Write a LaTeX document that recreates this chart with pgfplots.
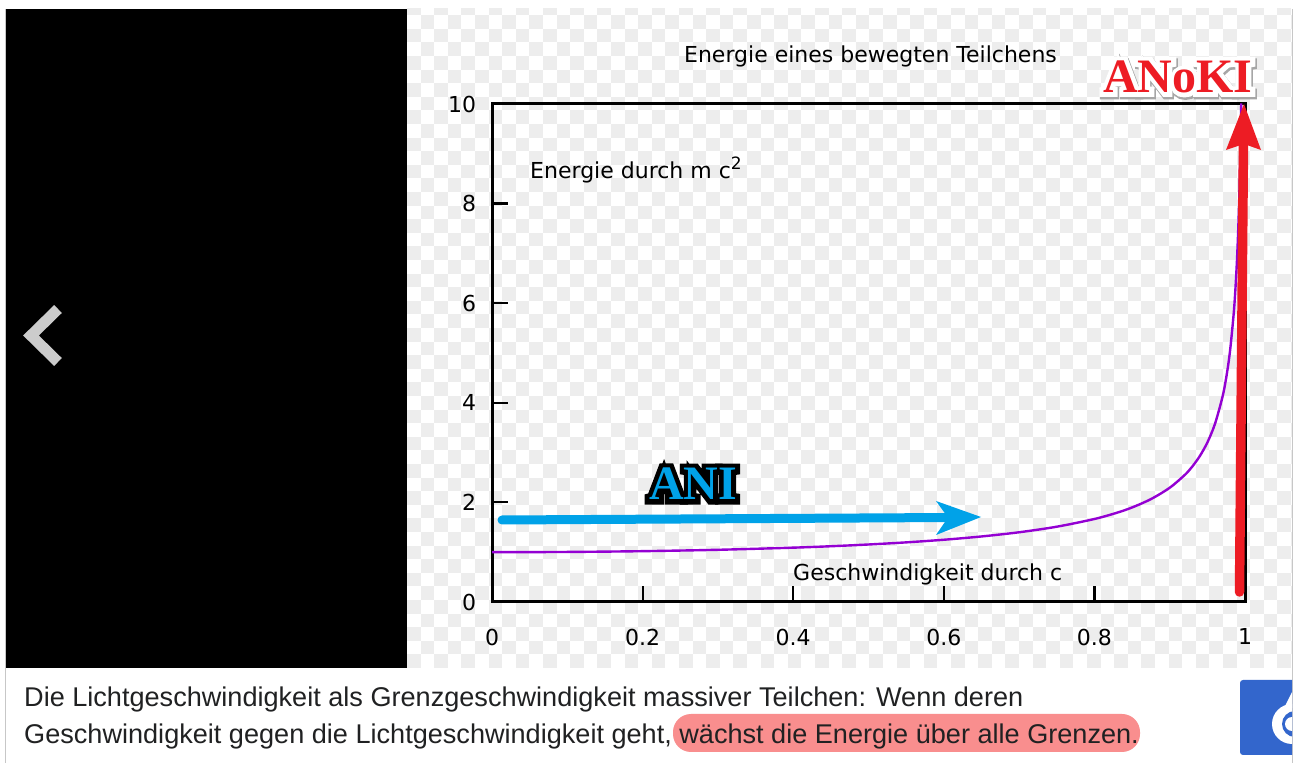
\documentclass[border=0pt]{standalone}
\usepackage{pgfplots}
\pgfplotsset{compat=1.18}
\usepackage{fontspec}
\setmainfont{DejaVu Sans}
\newfontfamily\capfont{Liberation Sans}
\newfontfamily\logofont{Liberation Serif}[BoldFont={Liberation Serif Bold}]
\newfontfamily\logohalo{Liberation Serif Bold}[FakeBold=18]
\newfontfamily\logohaloB{Liberation Serif Bold}[FakeBold=20]
\definecolor{chk}{HTML}{EDEDED}
\definecolor{curve}{HTML}{9400D3}
\definecolor{aniblue}{HTML}{00A2E8}
\definecolor{anired}{HTML}{ED1C24}
\definecolor{hl}{HTML}{F98E8E}
\definecolor{iconblue}{HTML}{3366CC}
\definecolor{txt}{HTML}{202122}
\pgfplotstableread{
v E
0 1
0.1 1.00504
0.2 1.02062
0.3 1.04828
0.4 1.09109
0.45 1.11979
0.5 1.1547
0.55 1.19737
0.6 1.25
0.65 1.3159
0.7 1.40028
0.75 1.51186
0.8 1.66667
0.83 1.79287
0.85 1.89832
0.875 2.0656
0.9 2.29416
0.92 2.55155
0.93 2.7202
0.94 2.93105
0.95 3.20256
0.96 3.57143
0.97 4.11345
0.975 4.5004
0.98 5.02519
0.985 5.795
0.9875 6.345
0.99 7.08881
0.9925 8.1998
0.995 10.0125
}\curvedata
\begin{document}
\begin{tikzpicture}
\useasboundingbox (0pt,0pt) rectangle (1299pt,763pt);
\begin{scope}[x=1pt,y=-1pt,shift={(0pt,763pt)}]
\fill[white] (0,0) rectangle (1299,763);
\fill[black] (6,9) rectangle (407,668);
\begin{scope}
\clip (407,9) rectangle (1292,668);
\foreach \i in {0,...,65}{
  \foreach \j in {0,...,48}{
    \pgfmathtruncatemacro\s{\i+\j}
    \ifodd\s\else
      \fill[chk] ({407+13.6*\i},{668-13.6*(\j+1)}) rectangle ++(13.6,13.6);
    \fi
  }
}
\end{scope}
\draw[black!22,line width=1pt] (5,9) -- (5,763);
\draw[black!22,line width=1pt] (1292.5,9) -- (1292.5,763);
\draw[line width=11pt,color=black!20,miter limit=10] (58,309) -- (31,335.5) -- (58,362);
\end{scope}
\begin{axis}[
  at={(492pt,161pt)},anchor=south west,
  scale only axis,width=753pt,height=498pt,
  xmin=0,xmax=1,ymin=0,ymax=10,
  xtick={0,0.2,0.4,0.6,0.8,1},
  ytick={0,2,4,6,8,10},
  xticklabels={0,0.2,0.4,0.6,0.8,1},
  tick pos=lower,
  tick align=inside,
  major tick length=16pt,
  every axis/.append style={line width=3pt},
  axis line style={line width=3pt},
  tick style={line width=2.2pt,black},
  tick label style={font=\fontsize{22}{26}\selectfont,text=black},
  /pgf/number format/assume math mode=true,
  xticklabel style={yshift=-22pt},
  yticklabel style={xshift=-11pt},
  clip=true,
]
\addplot[curve,line width=2.4pt,no marks,smooth,tension=0.5] table[x=v,y=E] {\curvedata};
\end{axis}
\begin{scope}[x=1pt,y=-1pt,shift={(0pt,763pt)}]
\node[anchor=center,inner sep=0,font=\fontsize{22}{26}\selectfont] at (870.5,56) {Energie eines bewegten Teilchens};
\node[anchor=west,inner sep=0,font=\fontsize{22}{26}\selectfont] at (530,170) {Energie durch m c\raisebox{9pt}{\fontsize{17}{20}\selectfont 2}};
\node[anchor=west,inner sep=0,font=\fontsize{22}{26}\selectfont] at (793,574) {Geschwindigkeit durch c};
% annotations
\draw[aniblue,line width=9pt,line cap=round] (502,520) -- (950,517.5);
\fill[aniblue] (936,501) -- (981,517) -- (936,535) -- (948,517.5) -- cycle;
\draw[anired,line width=9.5pt,line cap=round] (1239.5,592) -- (1243.5,140);
\fill[anired] (1244,104) -- (1261,150) -- (1244,144) -- (1226,150) -- cycle;
\node[anchor=center,inner sep=0,text=black,font=\logohaloB\fontsize{48}{52}\selectfont] at (693,484) {ANI};
\node[anchor=center,inner sep=0,text=aniblue,font=\logofont\bfseries\fontsize{48}{52}\selectfont] at (693,484) {ANI};
\node[anchor=center,inner sep=0,text=black!35,font=\logohaloB\fontsize{48}{52}\selectfont] at (1179,79) {ANoKI};
\node[anchor=center,inner sep=0,text=white,font=\logohalo\fontsize{48}{52}\selectfont] at (1178,77) {ANoKI};
\node[anchor=center,inner sep=0,text=anired,font=\logofont\bfseries\fontsize{48}{52}\selectfont] at (1178,77) {ANoKI};
% caption
\fill[hl,rounded corners=18pt] (673,714) rectangle (1140,752);
\node[anchor=base west,inner sep=0,text=txt,font=\capfont\fontsize{27.1}{32}\selectfont] at (24,707) {Die Lichtgeschwindigkeit als Grenzgeschwindigkeit massiver Teilchen: Wenn deren};
\node[anchor=base west,inner sep=0,text=txt,font=\capfont\fontsize{27.1}{32}\selectfont] at (24,744) {Geschwindigkeit gegen die Lichtgeschwindigkeit geht, wächst die Energie über alle Grenzen.};
% icon
\begin{scope}
\clip (1240,680) rectangle (1292,755);
\fill[iconblue,rounded corners=3pt] (1240,680) rectangle (1300,755);
\fill[white] (1292,724) circle (20);
\fill[iconblue] (1295,724) circle (13);
\fill[white] (1292,724) circle (7);
\fill[white] (1284,708) -- (1292,692) -- (1292,708) -- cycle;
\end{scope}
\end{scope}
\end{tikzpicture}
\end{document}
